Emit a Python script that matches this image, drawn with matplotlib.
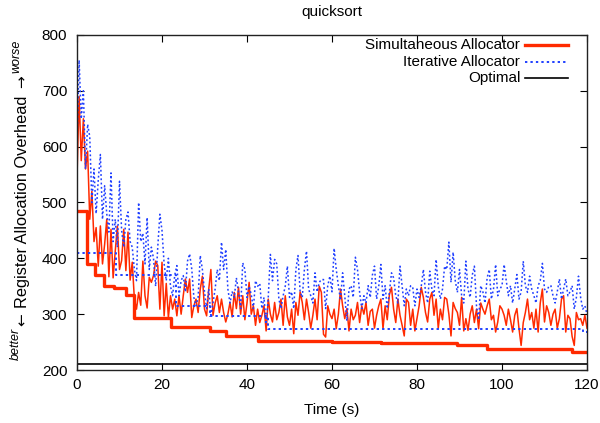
#!/usr/bin/env python3
"""quicksort: register allocation overhead over time."""
import numpy as np
import matplotlib
matplotlib.use('Agg')
import matplotlib.pyplot as plt

plt.rcParams['font.family'] = ['Liberation Sans', 'DejaVu Sans']

RED = '#ff2a00'
BLUE = '#1f3fff'

# current overhead, sampled every 0.5 s (one row = 10 s)
sample_dt = 0.5
sim_cur = [
    545, 690, 575, 650, 560, 592, 470, 520, 430, 455, 386, 458, 390, 425, 470, 367, 452, 365, 413, 458,
    380, 396, 452, 378, 447, 361, 393, 327, 309, 339, 316, 395, 333, 311, 366, 357, 369, 395, 387, 309,
    393, 297, 355, 294, 333, 309, 327, 297, 333, 300, 333, 363, 339, 363, 294, 315, 327, 303, 345, 368,
    309, 297, 345, 380, 298, 320, 333, 303, 327, 303, 286, 300, 321, 295, 339, 310, 348, 300, 333, 290,
    320, 357, 300, 315, 280, 309, 285, 298, 315, 270, 327, 300, 286, 321, 290, 303, 327, 280, 333, 295,
    280, 309, 265, 321, 298, 340, 321, 290, 327, 303, 275, 298, 327, 290, 350, 339, 264, 259, 315, 300,
    292, 309, 274, 300, 345, 315, 292, 310, 270, 309, 290, 298, 321, 285, 315, 300, 321, 280, 305, 309,
    275, 298, 315, 327, 274, 315, 290, 335, 348, 309, 285, 327, 298, 280, 261, 327, 321, 280, 309, 270,
    292, 315, 348, 330, 303, 286, 327, 339, 298, 327, 275, 309, 290, 330, 327, 300, 261, 321, 310, 303,
    280, 330, 270, 292, 271, 300, 315, 285, 309, 274, 320, 309, 300, 315, 327, 290, 298, 268, 286, 315,
    309, 298, 280, 309, 290, 268, 298, 310, 274, 244, 285, 303, 327, 290, 303, 275, 309, 268, 320, 345,
    286, 315, 303, 280, 300, 309, 275, 292, 327, 333, 268, 298, 292, 260, 244, 303, 290, 292, 280, 298,
    275,
]
iter_cur = [
    610, 755, 650, 700, 560, 640, 618, 500, 560, 480, 540, 586, 470, 530, 480, 447, 553, 430, 470, 420,
    538, 450, 420, 470, 483, 430, 420, 380, 360, 500, 430, 445, 390, 473, 380, 420, 400, 350, 420, 479,
    450, 390, 360, 400, 350, 333, 370, 387, 333, 360, 369, 340, 395, 408, 381, 330, 315, 330, 405, 380,
    340, 310, 345, 298, 320, 345, 380, 360, 429, 380, 416, 345, 320, 340, 330, 365, 340, 310, 392, 380,
    330, 350, 335, 310, 360, 350, 355, 310, 330, 282, 330, 407, 360, 398, 390, 327, 310, 333, 350, 386,
    330, 340, 310, 380, 405, 340, 330, 380, 413, 345, 333, 320, 374, 340, 357, 362, 362, 310, 351, 368,
    340, 418, 380, 351, 325, 374, 333, 288, 345, 351, 330, 402, 380, 339, 310, 333, 320, 351, 330, 370,
    386, 327, 350, 389, 327, 351, 310, 339, 374, 365, 333, 320, 386, 350, 315, 345, 333, 351, 348, 315,
    345, 330, 350, 380, 340, 320, 377, 345, 333, 398, 350, 327, 345, 386, 380, 429, 357, 411, 360, 339,
    380, 333, 320, 395, 345, 330, 370, 386, 315, 290, 351, 340, 320, 365, 380, 327, 345, 389, 333, 345,
    351, 389, 360, 333, 351, 320, 345, 371, 327, 340, 395, 351, 339, 368, 345, 333, 320, 351, 360, 391,
    345, 339, 350, 351, 333, 320, 340, 363, 327, 345, 363, 333, 340, 351, 309, 330, 368, 330, 309, 315,
    300,
]

# best-so-far steps
sim_best_t = [0, 2.4, 4.2, 6.4, 8.7, 11.5, 13.3, 22.0, 31.3, 35.0, 42.6, 60.0, 71.5, 89.3, 96.4, 116.4, 120]
sim_best_v = [484, 389, 371, 351, 346, 335, 294, 277, 270, 261, 252, 250, 248, 245, 237, 233, 233]
iter_best_t = [0, 9.2, 23.4, 31.3, 45.0, 119.0, 120]
iter_best_v = [410, 371, 315, 296, 273, 268, 268]
optimal = 210

sim_t = np.arange(len(sim_cur)) * sample_dt
iter_t = np.arange(len(iter_cur)) * sample_dt

fig = plt.figure(figsize=(6.0, 4.23), dpi=100)
ax = fig.add_axes([77/600, 1 - 370/423, 510/600, 335/423])

ax.plot(sim_t, sim_cur, color=RED, lw=1.1)
ax.step(sim_best_t, sim_best_v, where='post', color=RED, lw=2.4)
ax.plot(iter_t, iter_cur, color=BLUE, lw=1.1, dashes=(1.2, 1.6))
ax.step(iter_best_t, iter_best_v, where='post', color=BLUE, lw=1.4, dashes=(1.2, 1.6))
ax.axhline(optimal, color='black', lw=1.2)

ax.set_xlim(0, 120)
ax.set_ylim(200, 800)
ax.set_xticks(np.arange(0, 121, 20))
ax.set_yticks(np.arange(200, 801, 100))
ax.tick_params(direction='in', length=5, width=0.8, top=True, right=True, labelsize=11)
ax.tick_params(axis='y', pad=7)
ax.tick_params(axis='x', pad=6)
for s in ax.spines.values():
    s.set_linewidth(1.0)
    s.set_color('#222222')

ax.set_title('quicksort', fontsize=11, pad=14)
ax.set_xlabel('Time (s)', fontsize=11, labelpad=8)

# y label in pieces: better <- text -> worse
fig.text(23/600, 1 - 202/423, 'Register Allocation Overhead',
         rotation=90, ha='center', va='center', fontsize=11.8)
fig.text(22/600, 1 - 320/423, '\u2190', rotation=90, ha='center', va='center',
         fontsize=11, family='DejaVu Sans')
fig.text(22/600, 1 - 82/423, '\u2192', rotation=90, ha='center', va='center',
         fontsize=11, family='DejaVu Sans')
fig.text(16/600, 1 - 344/423, 'better', rotation=90, ha='center', va='center',
         fontsize=9, style='italic')
fig.text(16/600, 1 - 56/423, 'worse', rotation=90, ha='center', va='center',
         fontsize=9, style='italic')

# gnuplot-style key, text right-aligned with sample on the right
key = [('Simultaneous Allocator', dict(color=RED, lw=2.4)),
       ('Iterative Allocator', dict(color=BLUE, lw=1.4, dashes=(1.2, 1.6))),
       ('Optimal', dict(color='black', lw=1.2))]
for i, (label, style) in enumerate(key):
    yk = 0.970 - i * 0.0495
    ax.text(0.869, yk, label, transform=ax.transAxes, ha='right', va='center', fontsize=11)
    ax.plot([0.878, 0.963], [yk, yk], transform=ax.transAxes, **style)

fig.savefig('out.png', dpi=100)
